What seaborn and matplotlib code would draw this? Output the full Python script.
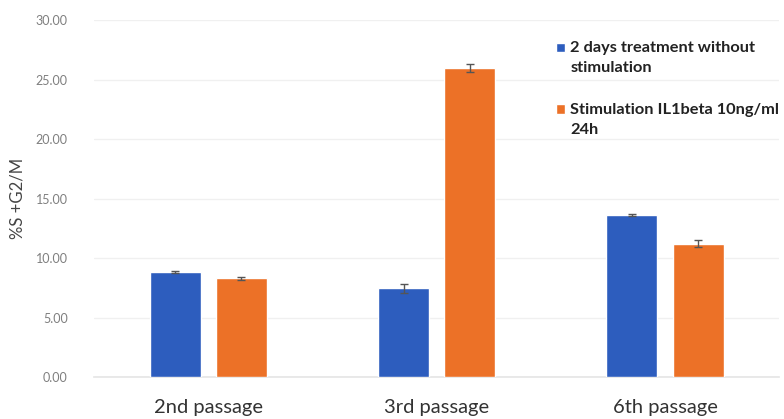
import matplotlib
matplotlib.use("Agg")
import matplotlib.pyplot as plt
import matplotlib.patches as mpatches
from matplotlib.legend_handler import HandlerPatch
import seaborn as sns
import pandas as pd

# Cell-cycle data: percentage of cells in S + G2/M phases
passages = ["2nd passage", "3rd passage", "6th passage"]
treatments = ["2 days treatment without\nstimulation", "Stimulation IL1beta 10ng/ml\n24h"]
no_stim = [8.85, 7.45, 13.60]
no_stim_err = [0.10, 0.40, 0.08]
il1beta = [8.30, 25.95, 11.20]
il1beta_err = [0.10, 0.35, 0.30]
colors = ["#2D5DBE", "#EC7127"]

df = pd.DataFrame({
    "passage": passages * 2,
    "treatment": [treatments[0]] * 3 + [treatments[1]] * 3,
    "value": no_stim + il1beta,
    "err": no_stim_err + il1beta_err,
})

sns.set_theme(style="white")
plt.rcParams["font.family"] = ["Lato", "DejaVu Sans"]

fig = plt.figure(figsize=(7.84, 4.19), dpi=100)
ax = fig.add_axes([0.12, 0.100, 0.874, 0.852])

sns.barplot(data=df, x="passage", y="value", hue="treatment", order=passages,
            hue_order=treatments, palette=colors, width=0.58, gap=0.23,
            errorbar=None, saturation=1, ax=ax, zorder=3)

# error bars placed on top of each drawn bar
for container, t in zip(ax.containers, treatments):
    sub = df[df["treatment"] == t].set_index("passage").loc[passages]
    xs = [p.get_x() + p.get_width() / 2 for p in container.patches]
    ax.errorbar(xs, sub["value"], yerr=sub["err"], fmt="none",
                ecolor="#555555", elinewidth=1, capsize=3, capthick=1, zorder=4)

ax.set_xlim(-0.5, 2.5)
ax.set_ylim(0, 30)
ax.set_yticks(range(0, 31, 5))
ax.set_yticklabels([f"{v:.2f}" for v in range(0, 31, 5)], color="#7F7F7F", fontsize=9)
ax.tick_params(axis="y", length=0, pad=19)
ax.tick_params(axis="x", length=0, pad=16)
for lbl in ax.get_xticklabels():
    lbl.set_fontsize(14.5)
    lbl.set_color("#333333")

ax.yaxis.grid(True, color="#F0F0F0", linewidth=1, zorder=0)
ax.set_axisbelow(True)
for s in ["top", "right", "left"]:
    ax.spines[s].set_visible(False)
ax.spines["bottom"].set_color("#E6E6E6")

ax.set_xlabel("")
ax.set_ylabel("%S +G2/M", fontsize=12, color="#444444", labelpad=2)
ax.yaxis.set_label_coords(-0.1, 0.5)


def first_line_square(legend, orig_handle, xdescent, ydescent, width, height, fontsize):
    # square marker aligned with the first line of a two-line label
    return mpatches.Rectangle((-xdescent, -ydescent + 7.5), width, height)


handles, labels = ax.get_legend_handles_labels()
leg = ax.legend(handles, labels, loc="upper left", bbox_to_anchor=(0.69, 0.937),
                bbox_transform=fig.transFigure, frameon=False,
                handlelength=0.55, handleheight=0.55, handletextpad=0.35,
                labelspacing=1.7, fontsize=11.8,
                handler_map={mpatches.Rectangle: HandlerPatch(patch_func=first_line_square)})
for txt in leg.get_texts():
    txt.set_fontweight("bold")
    txt.set_color("#222222")
    txt.set_linespacing(1.55)

fig.savefig("out.png", dpi=100)
